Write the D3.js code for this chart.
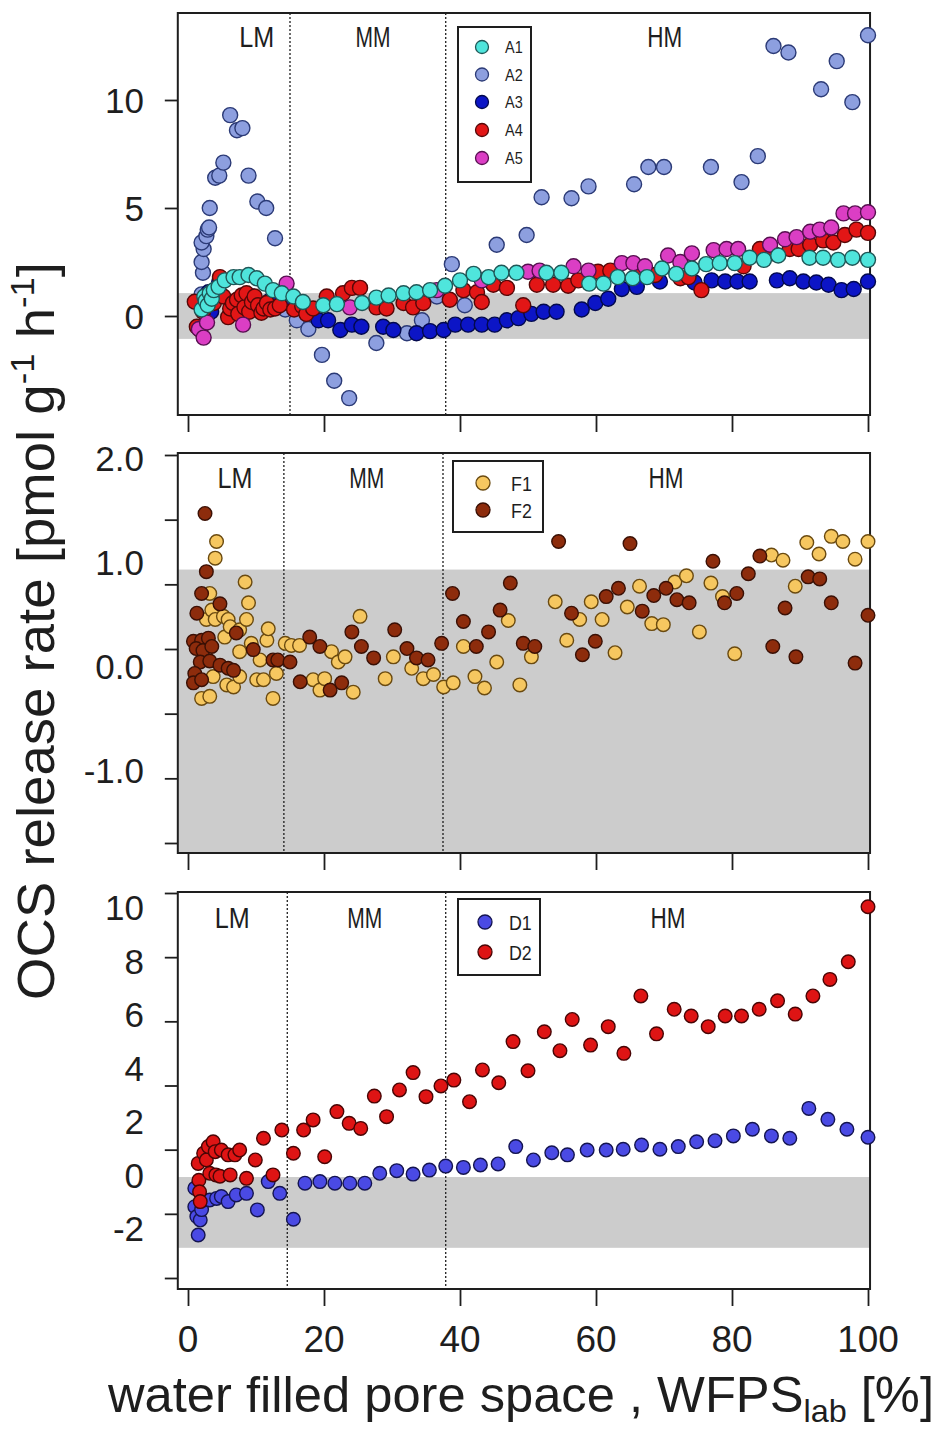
<!DOCTYPE html>
<html>
<head>
<meta charset="utf-8">
<script src="https://cdn.jsdelivr.net/npm/d3@7"></script>
<style>
  html, body { margin: 0; padding: 0; background: #fff; }
  svg { display: block; font-family: "Liberation Sans", Arial, sans-serif; }
</style>
</head>
<body>
<svg id="chart" width="945" height="1441"></svg>
<script>
// ---------------- data: [WFPS %, OCS release rate] ----------------
const seriesA1 = [[2.0,0.3],[2.4,0.9],[2.6,0.7],[2.9,0.5],[3.2,1.05],[3.5,0.8],[3.8,1.2],[4.5,1.35],[5.4,1.65],[6.7,1.8],[7.6,1.8],[8.9,1.9],[10.1,1.75],[11.3,1.5],[12.5,1.2],[13.8,1.05],[15.5,0.9],[16.9,0.65],[19.9,0.5],[21.9,0.55],[25.6,0.6],[27.7,0.85],[29.5,0.95],[31.7,1.05],[33.6,1.1],[35.6,1.2],[37.8,1.4],[40.0,1.65],[42.0,1.95],[44.2,1.8],[46.1,2.0],[48.3,2.0],[52.7,2.0],[54.9,2.0],[59.0,1.5],[61.1,1.5],[63.2,1.8],[65.4,1.75],[67.5,1.8],[69.7,2.2],[71.8,1.95],[74.1,2.2],[76.2,2.4],[78.2,2.45],[80.4,2.45],[82.6,2.7],[84.7,2.6],[86.8,2.8],[91.4,2.7],[93.4,2.7],[95.6,2.6],[97.7,2.7],[100,2.6]];
const seriesA2 = [[2.0,1.0],[2.2,2.0],[2.0,2.5],[2.3,3.1],[2.0,3.4],[2.7,3.7],[2.9,4.0],[3.1,4.1],[3.2,5.0],[4.0,6.4],[4.6,6.5],[5.2,7.1],[6.2,9.3],[7.2,8.6],[8.0,8.7],[8.9,6.5],[10.2,5.3],[11.5,5.0],[12.8,3.6],[14.3,0.3],[16.0,-0.2],[17.7,-0.6],[19.7,-1.8],[21.5,-3.0],[23.7,-3.8],[27.7,-1.25],[32.2,-0.8],[34.4,-0.2],[36.6,0.9],[38.8,2.4],[40.7,0.5],[45.4,3.3],[49.8,3.75],[52.0,5.5],[56.4,5.45],[58.9,6.0],[65.6,6.1],[67.7,6.9],[70.0,6.9],[76.9,6.9],[81.4,6.2],[83.8,7.4],[86.1,12.5],[88.3,12.2],[93.1,10.5],[95.4,11.8],[97.7,9.9],[100,13.0]];
const seriesA3 = [[2.2,0.4],[2.6,0.6],[3.0,1.1],[3.4,0.2],[3.9,0.9],[4.6,1.6],[9.5,0.9],[12.0,0.7],[14.0,0.6],[17.5,0.2],[19.2,-0.2],[20.6,-0.2],[22.4,-0.65],[24.1,-0.4],[25.5,-0.5],[28.7,-0.5],[30.2,-0.65],[33.6,-0.8],[35.6,-0.7],[37.6,-0.65],[39.3,-0.4],[41.2,-0.4],[43.2,-0.4],[45.1,-0.4],[46.9,-0.2],[48.6,-0.1],[50.5,0.1],[52.3,0.2],[54.2,0.2],[57.9,0.3],[59.9,0.6],[61.8,0.8],[63.8,1.25],[66.0,1.35],[69.4,1.6],[74.5,1.55],[77.0,1.65],[79.0,1.6],[80.8,1.6],[82.6,1.6],[86.6,1.65],[88.5,1.75],[90.5,1.6],[92.4,1.55],[94.2,1.45],[96.1,1.2],[97.9,1.25],[100,1.6]];
const seriesA4 = [[1.0,0.66],[1.3,-0.5],[1.8,-0.65],[2.2,0.2],[2.8,0.5],[3.3,0.8],[3.8,0.6],[4.7,1.8],[5.2,0.9],[5.9,-0.05],[6.2,0.35],[6.6,0.6],[7.2,0.75],[7.4,0.1],[7.9,0.95],[8.3,0.4],[8.6,1.05],[9.0,0.2],[9.4,0.65],[9.8,0.9],[10.3,0.5],[10.8,0.15],[11.1,0.35],[11.6,0.6],[12.1,0.3],[12.8,0.35],[13.5,0.5],[15.6,0.3],[16.8,0.45],[17.4,0.1],[18.4,0.35],[20.4,0.9],[22.8,1.05],[24.1,1.3],[25.3,1.3],[27.7,0.4],[29.2,0.35],[31.7,0.6],[33.1,0.4],[34.6,0.6],[38.5,0.75],[40.5,1.2],[42.5,1.1],[43.2,0.65],[44.9,1.45],[46.9,1.3],[49.3,0.5],[51.3,1.45],[53.7,1.45],[55.9,1.4],[57.4,1.65],[60.3,2.05],[62.1,2.1],[66.5,2.0],[68.7,1.9],[72.4,1.75],[73.6,1.8],[75.5,1.2],[81.7,2.3],[84.1,3.1],[86.1,2.9],[88.5,3.1],[89.8,3.1],[91.5,3.3],[93.4,3.5],[94.9,3.4],[96.6,3.75],[98.3,4.0],[100,3.85]];
const seriesA5 = [[1.6,-0.6],[2.3,-1.0],[2.8,-0.3],[8.1,-0.4],[14.5,1.5],[23.8,0.4],[36.6,1.2],[43.2,1.65],[50.0,2.05],[51.7,2.1],[56.7,2.3],[58.9,2.1],[63.8,2.45],[65.5,2.45],[67.2,2.3],[70.6,2.8],[72.4,2.5],[74.1,2.9],[77.3,3.05],[79.2,3.1],[80.9,3.1],[85.6,3.3],[87.8,3.55],[89.5,3.65],[91.5,3.9],[92.9,4.0],[94.6,4.1],[96.4,4.75],[98.1,4.75],[100,4.8]];

const seriesF1 = [[2.0,-0.31],[2.7,0.45],[3.2,0.7],[3.2,-0.29],[3.5,0.54],[3.7,-0.1],[4.0,1.04],[4.0,0.45],[4.2,1.2],[5.2,0.48],[5.4,0.28],[5.7,-0.18],[5.9,0.45],[6.2,0.38],[6.7,-0.2],[7.6,0.35],[7.6,0.14],[7.6,-0.1],[8.4,0.81],[8.6,0.45],[8.9,0.61],[9.3,0.22],[10.1,-0.13],[10.6,0.06],[11.1,-0.13],[11.6,0.25],[11.8,0.36],[12.5,-0.31],[13.0,-0.07],[14.3,0.22],[15.2,0.2],[16.4,0.2],[18.4,-0.13],[19.4,-0.23],[20.1,-0.12],[21.1,0.14],[22.1,0.04],[23.1,0.09],[24.3,-0.25],[25.3,0.48],[29.0,-0.12],[30.2,0.09],[32.9,-0.02],[34.6,-0.12],[36.1,-0.08],[37.6,-0.2],[39.0,-0.16],[40.5,0.19],[42.2,-0.1],[43.6,-0.21],[45.4,0.04],[47.1,0.44],[48.8,-0.18],[50.5,0.09],[54.0,0.62],[55.7,0.25],[57.6,0.45],[59.3,0.62],[60.9,0.45],[62.8,0.13],[64.6,0.57],[66.4,0.77],[68.2,0.41],[69.9,0.40],[71.6,0.81],[73.3,0.87],[75.2,0.33],[76.9,0.80],[78.6,0.67],[80.4,0.12],[85.8,1.07],[87.5,1.02],[89.3,0.77],[91.0,1.19],[92.8,1.08],[94.6,1.25],[96.3,1.2],[98.1,1.03],[100,1.2]];
const seriesF2 = [[2.5,1.47],[2.7,0.91],[2.0,0.70],[1.3,0.51],[0.8,0.24],[2.0,0.25],[3.0,0.27],[1.2,0.17],[2.2,0.15],[3.5,0.19],[1.8,0.04],[3.2,0.05],[1.0,-0.07],[0.8,-0.16],[2.0,-0.13],[4.7,0.60],[4.7,0.01],[5.9,-0.02],[6.7,-0.04],[7.1,0.32],[9.6,0.16],[12.5,0.06],[13.2,0.06],[15.0,0.04],[16.5,-0.15],[17.9,0.28],[19.4,0.19],[20.9,-0.23],[22.6,-0.16],[24.1,0.33],[25.5,0.19],[27.3,0.08],[30.4,0.35],[32.2,0.17],[33.6,0.08],[35.3,0.06],[37.3,0.22],[38.9,0.70],[40.5,0.43],[42.4,0.19],[44.2,0.33],[45.9,0.54],[47.4,0.80],[49.3,0.22],[51.0,0.19],[54.5,1.20],[56.4,0.51],[58.0,0.11],[59.9,0.24],[61.5,0.67],[63.3,0.75],[65.0,1.18],[66.8,0.53],[68.5,0.68],[70.3,0.75],[71.9,0.64],[73.7,0.61],[77.2,1.01],[78.9,0.61],[80.7,0.70],[82.4,0.89],[84.1,1.06],[86.0,0.19],[87.8,0.56],[89.4,0.09],[91.2,0.86],[92.9,0.84],[94.6,0.61],[98.1,0.03],[100,0.49]];

const seriesD1 = [[1.0,-0.5],[1.0,-1.19],[1.3,-1.56],[1.5,-2.25],[1.8,-1.69],[2.0,-1.3],[2.3,-0.94],[3.2,-0.94],[4.2,-0.88],[4.9,-0.81],[5.9,-1.0],[7.1,-0.75],[8.6,-0.69],[10.2,-1.31],[11.8,-0.25],[13.5,-0.69],[15.5,-1.66],[17.2,-0.31],[19.4,-0.25],[21.6,-0.31],[23.8,-0.31],[26.0,-0.31],[28.2,0.06],[30.7,0.16],[33.1,0.03],[35.5,0.18],[37.9,0.33],[40.5,0.28],[43.0,0.37],[45.6,0.41],[48.2,1.06],[50.8,0.56],[53.5,0.83],[55.8,0.75],[58.7,0.93],[61.5,0.93],[64.0,0.96],[66.7,1.12],[69.4,0.96],[72.1,1.06],[74.8,1.24],[77.5,1.28],[80.2,1.46],[83.0,1.71],[85.8,1.46],[88.5,1.37],[91.3,2.49],[94.1,2.08],[96.9,1.71],[100,1.41]];
const seriesD2 = [[1.5,0.43],[1.6,-0.2],[1.7,-0.63],[1.8,-1.0],[2.3,0.81],[2.7,0.56],[3.0,1.06],[3.7,1.24],[4.0,0.87],[3.2,0.06],[4.1,0.0],[4.7,-0.05],[4.9,0.93],[5.9,0.75],[6.9,0.75],[7.6,0.93],[6.2,0.0],[8.6,-0.13],[9.9,0.56],[11.1,1.37],[12.5,0.0],[13.8,1.68],[15.5,0.81],[17.0,1.68],[18.4,2.06],[20.1,0.68],[21.9,2.37],[23.7,1.93],[25.4,1.74],[27.4,2.95],[29.2,2.18],[31.1,3.18],[33.1,3.83],[35.0,2.93],[37.2,3.33],[39.1,3.55],[41.4,2.74],[43.3,3.93],[45.7,3.45],[47.8,4.99],[50.0,3.9],[52.4,5.36],[54.7,4.65],[56.5,5.82],[59.2,4.86],[61.8,5.55],[64.1,4.55],[66.6,6.70],[68.9,5.28],[71.5,6.2],[74.0,5.95],[76.5,5.55],[79.0,5.95],[81.4,5.95],[84.0,6.2],[86.7,6.52],[89.3,6.02],[91.9,6.70],[94.4,7.32],[97.1,7.98],[100,10.04]];

// axis tick values and labels
const xTicks = [0, 20, 40, 60, 80, 100];
const xTickLabels = ["0", "20", "40", "60", "80", "100"];
const yLabels1 = [[10, "10"], [5, "5"], [0, "0"]];
const yLabels2 = [[2, "2.0"], [1, "1.0"], [0, "0.0"], [-1, "-1.0"]];
const yLabels3 = [[10, "10"], [8, "8"], [6, "6"], [4, "4"], [2, "2"], [0, "0"], [-2, "-2"]];
const rulerTicks1 = [0, 5, 10];
const rulerTicks2 = [-1, -0.5, 0, 0.5, 1, 1.5, 2];
const rulerTicks3 = [-2, 0, 2, 4, 6, 8, 10];
const zoneNames = ["LM", "MM", "HM"];

// ---------------- styling ----------------
const styles = {
  A1: { fill: "#4fe5dc", stroke: "#1f5757" },
  A2: { fill: "#8d9fdf", stroke: "#2b3a76" },
  A3: { fill: "#0c15c6", stroke: "#03094d" },
  A4: { fill: "#e21616", stroke: "#560808" },
  A5: { fill: "#db3ec4", stroke: "#571050" },
  F1: { fill: "#f6c760", stroke: "#6a4a10" },
  F2: { fill: "#8d2c0c", stroke: "#3a1005" },
  D1: { fill: "#4a4ae4", stroke: "#141450" },
  D2: { fill: "#de1414", stroke: "#480505" }
};

const svg = d3.select("#chart");
const ink = "#1e1e1e";
const x = d3.scaleLinear().domain([0, 100]).range([188, 868]);
const boxLeft = x(-1.5), boxRight = x(100.3);

const panels = [
  {
    top: 13, bottom: 415,
    y: d3.scaleLinear().domain([0, 10]).range([316, 100]),
    ruler: d3.scaleLinear().domain([0, 10]).range([316, 100]),
    rulerTicks: rulerTicks1, labels: yLabels1,
    band: [-1.06, 1.06], zones: [15.0, 37.9],
    zoneY: 36, zoneX: [10.1, 27.2, 70.1], r: 7.5,
    series: [["A2", seriesA2], ["A3", seriesA3], ["A4", seriesA4], ["A5", seriesA5], ["A1", seriesA1]],
    legend: { x0: 458, y0: 27, w: 73, h: 155, cx: 482, tx: 505, rows: [47, 74.5, 102, 130, 158], keys: ["A1", "A2", "A3", "A4", "A5"], fs: 17, r: 6.5 }
  },
  {
    top: 453, bottom: 853,
    y: d3.scaleLinear().domain([0, 1]).range([666.2, 562.3]),
    ruler: d3.scaleLinear().domain([-1, 2]).range([843, 455]),
    rulerTicks: rulerTicks2, labels: yLabels2,
    band: [-1.8, 0.93], zones: [14.1, 37.5],
    zoneY: 477, zoneX: [6.9, 26.3, 70.3], r: 6.8,
    series: [["F1", seriesF1], ["F2", seriesF2]],
    legend: { x0: 453, y0: 461, w: 90, h: 71, cx: 483, tx: 511, rows: [483, 510], keys: ["F1", "F2"], fs: 21, r: 7 }
  },
  {
    top: 892, bottom: 1289,
    y: d3.scaleLinear().domain([0, 10]).range([1174.9, 907.8]),
    ruler: d3.scaleLinear().domain([-2, 10]).range([1278, 893]),
    rulerTicks: rulerTicks3, labels: yLabels3,
    band: [-2.73, -0.08], zones: [14.6, 37.9],
    zoneY: 917, zoneX: [6.5, 26.0, 70.6], r: 6.8,
    series: [["D1", seriesD1], ["D2", seriesD2]],
    legend: { x0: 458, y0: 899, w: 82, h: 76, cx: 485, tx: 509, rows: [922, 952], keys: ["D1", "D2"], fs: 21, r: 7 }
  }
];

// squeeze a text element horizontally around a centre so it spans a target width
function fitWidth(sel, target, cx) {
  const w = sel.node().getBBox().width;
  const s = target / w;
  sel.attr("transform", `translate(${cx},0) scale(${s},1) translate(${-cx},0)`);
}

panels.forEach((p, i) => {
  const g = svg.append("g");
  const yTop = p.y.invert(p.top), yBot = p.y.invert(p.bottom);

  // grey band
  const b0 = Math.max(p.band[0], yBot), b1 = Math.min(p.band[1], yTop);
  g.append("rect")
    .attr("x", boxLeft).attr("width", boxRight - boxLeft)
    .attr("y", p.y(b1)).attr("height", p.y(b0) - p.y(b1))
    .attr("fill", "#cccccc");

  // moisture-regime boundaries
  g.selectAll("line.zone").data(p.zones).join("line")
    .attr("x1", d => x(d)).attr("x2", d => x(d))
    .attr("y1", p.top).attr("y2", p.bottom)
    .attr("stroke", ink).attr("stroke-width", 1.3).attr("stroke-dasharray", "2,2");

  // frame
  g.append("rect")
    .attr("x", boxLeft).attr("y", p.top)
    .attr("width", boxRight - boxLeft).attr("height", p.bottom - p.top)
    .attr("fill", "none").attr("stroke", ink).attr("stroke-width", 2);

  // x ticks
  const xa = g.append("g").attr("transform", `translate(0,${p.bottom})`)
    .call(d3.axisBottom(x).tickValues(xTicks).tickSize(17).tickFormat(""));
  xa.select(".domain").remove();
  xa.selectAll("line").attr("stroke", ink).attr("stroke-width", 1.8);

  // y ticks
  const ya = g.append("g").attr("transform", `translate(${boxLeft},0)`)
    .call(d3.axisLeft(p.ruler).tickValues(p.rulerTicks).tickSize(13).tickFormat(""));
  ya.select(".domain").remove();
  ya.selectAll("line").attr("stroke", ink).attr("stroke-width", 1.8);

  // y tick labels
  g.selectAll("text.ylab").data(p.labels).join("text")
    .attr("x", 144).attr("y", d => p.y(d[0]))
    .attr("dy", "0.36em")
    .attr("text-anchor", "end")
    .attr("font-size", 35).attr("fill", ink)
    .text(d => d[1]);

  // regime labels
  zoneNames.forEach((name, k) => {
    const t = g.append("text")
      .attr("x", x(p.zoneX[k])).attr("y", p.zoneY)
      .attr("dy", "0.36em").attr("text-anchor", "middle")
      .attr("font-size", 30).attr("fill", ink)
      .text(name);
    fitWidth(t, 35, x(p.zoneX[k]));
  });

  // points
  p.series.forEach(([key, data]) => {
    g.append("g").selectAll("circle").data(data).join("circle")
      .attr("cx", d => x(d[0])).attr("cy", d => p.y(d[1]))
      .attr("r", p.r)
      .attr("fill", styles[key].fill)
      .attr("stroke", styles[key].stroke)
      .attr("stroke-width", 1.4);
  });

  // legend
  const L = p.legend;
  g.append("rect").attr("x", L.x0).attr("y", L.y0).attr("width", L.w).attr("height", L.h)
    .attr("fill", "#fff").attr("stroke", ink).attr("stroke-width", 2);
  L.keys.forEach((key, k) => {
    g.append("circle").attr("cx", L.cx).attr("cy", L.rows[k]).attr("r", L.r)
      .attr("fill", styles[key].fill).attr("stroke", styles[key].stroke).attr("stroke-width", 1.3);
    const t = g.append("text").attr("x", L.tx).attr("y", L.rows[k]).attr("dy", "0.36em")
      .attr("font-size", L.fs).attr("fill", ink).text(key);
    fitWidth(t, t.node().getBBox().width * 0.85, L.tx);
  });

  // x tick labels under the bottom panel
  if (i === panels.length - 1) {
    g.selectAll("text.xlab").data(xTicks).join("text")
      .attr("x", d => x(d)).attr("y", 1352)
      .attr("text-anchor", "middle")
      .attr("font-size", 37).attr("fill", ink)
      .text((d, k) => xTickLabels[k]);
  }
});

// x axis title
const xt = svg.append("text")
  .attr("x", 521).attr("y", 1412).attr("text-anchor", "middle")
  .attr("font-size", 50).attr("fill", ink);
xt.append("tspan").text("water filled pore space , WFPS");
xt.append("tspan").attr("font-size", 32).attr("dy", 10).text("lab");
xt.append("tspan").attr("dy", -10).text(" [%]");
fitWidth(xt, 827, 521);

// y axis title
const ytg = svg.append("g").attr("transform", "translate(54,631) rotate(-90)");
const yt = ytg.append("text").attr("x", 0).attr("y", 0).attr("text-anchor", "middle")
  .attr("font-size", 52).attr("fill", ink);
yt.append("tspan").text("OCS release rate [pmol g");
yt.append("tspan").attr("font-size", 33).attr("dy", -20).text("-1");
yt.append("tspan").attr("dy", 20).text(" h");
yt.append("tspan").attr("font-size", 33).attr("dy", -20).text("-1");
yt.append("tspan").attr("dy", 20).text("]");
fitWidth(yt, 738, 0);
</script>
</body>
</html>
